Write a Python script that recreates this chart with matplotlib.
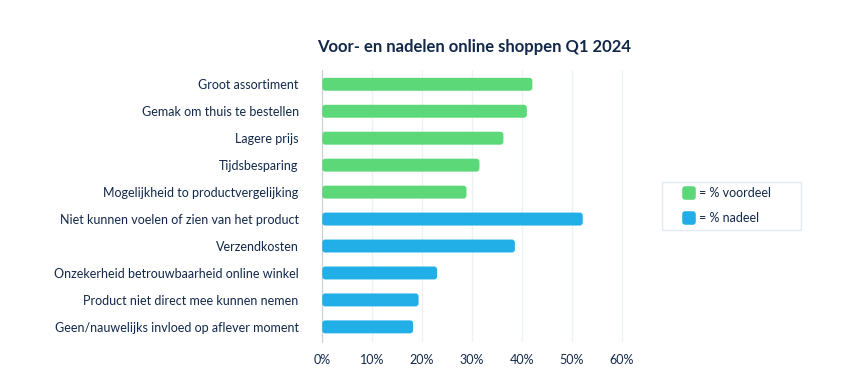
import matplotlib.pyplot as plt
from matplotlib.patches import FancyBboxPatch, Rectangle
from matplotlib.lines import Line2D
from matplotlib.markers import MarkerStyle

labels = [
    'Groot assortiment',
    'Gemak om thuis te bestellen',
    'Lagere prijs',
    'Tijdsbesparing',
    'Mogelijkheid to productvergelijking',
    'Niet kunnen voelen of zien van het product',
    'Verzendkosten',
    'Onzekerheid betrouwbaarheid online winkel',
    'Product niet direct mee kunnen nemen',
    'Geen/nauwelijks invloed op aflever moment',
]
values = [42.1, 41.0, 36.3, 31.5, 28.9, 52.2, 38.6, 23.0, 19.3, 18.2]
kind = ['voordeel'] * 5 + ['nadeel'] * 5
xticks = [0, 10, 20, 30, 40, 50, 60]
legend_labels = ['= % voordeel', '= % nadeel']

green = '#5dd879'
blue = '#22aee6'
navy = '#12284a'
colors = {'voordeel': green, 'nadeel': blue}

plt.rcParams['font.family'] = ['Lato', 'DejaVu Sans']

fig = plt.figure(figsize=(8.45, 3.92), dpi=100)
ax = fig.add_axes([0.3814, 0.1283, 0.3602, 0.6931])

bars = ax.barh(range(len(values)), values, height=0.48,
               color=[colors[k] for k in kind])
# swap the square bars for rounded ones
for b in bars:
    b.set_visible(False)
    x, y = b.get_x(), b.get_y()
    w, h = b.get_width(), b.get_height()
    ax.add_patch(FancyBboxPatch((x, y), w, h,
                                boxstyle='round,pad=0,rounding_size=0.6',
                                mutation_aspect=0.185,
                                facecolor=b.get_facecolor(), edgecolor='none',
                                zorder=3))

ax.set_xlim(0, 61)
ax.set_ylim(9.55, -0.53)
ax.set_xticks(xticks)
ax.set_xticklabels([f'{t}%' for t in xticks])
ax.set_yticks(range(len(labels)))
ax.set_yticklabels(labels)
ax.tick_params(axis='both', length=0, colors=navy, labelsize=9)
ax.tick_params(axis='x', pad=9)
ax.tick_params(axis='y', pad=17)
ax.grid(axis='x', color='#eef2f4', linewidth=1, zorder=0)
ax.set_axisbelow(True)
for s in ['top', 'right', 'bottom']:
    ax.spines[s].set_visible(False)
ax.spines['left'].set_color('#c9ced6')

fig.text(0.561, 0.88, 'Voor- en nadelen online shoppen Q1 2024',
         ha='center', va='center', fontsize=12, fontweight='bold', color=navy)

# legend box drawn by hand
fig.add_artist(Rectangle((0.7834, 0.4133), 0.1645, 0.1224,
                         transform=fig.transFigure, facecolor='white',
                         edgecolor='#dfeaef', linewidth=1))
for i, (c, lab) in enumerate(zip((green, blue), legend_labels)):
    yy = 0.5068 - i * 0.0638
    fig.add_artist(Line2D([0.8154], [yy], transform=fig.transFigure,
                          linestyle='none',
                          marker=MarkerStyle('s', joinstyle='round'),
                          markersize=5.5, markerfacecolor=c,
                          markeredgecolor=c, markeredgewidth=4))
    fig.text(0.8272, yy, lab, ha='left', va='center', fontsize=9,
             color=navy)

fig.savefig('out.png', dpi=100)
